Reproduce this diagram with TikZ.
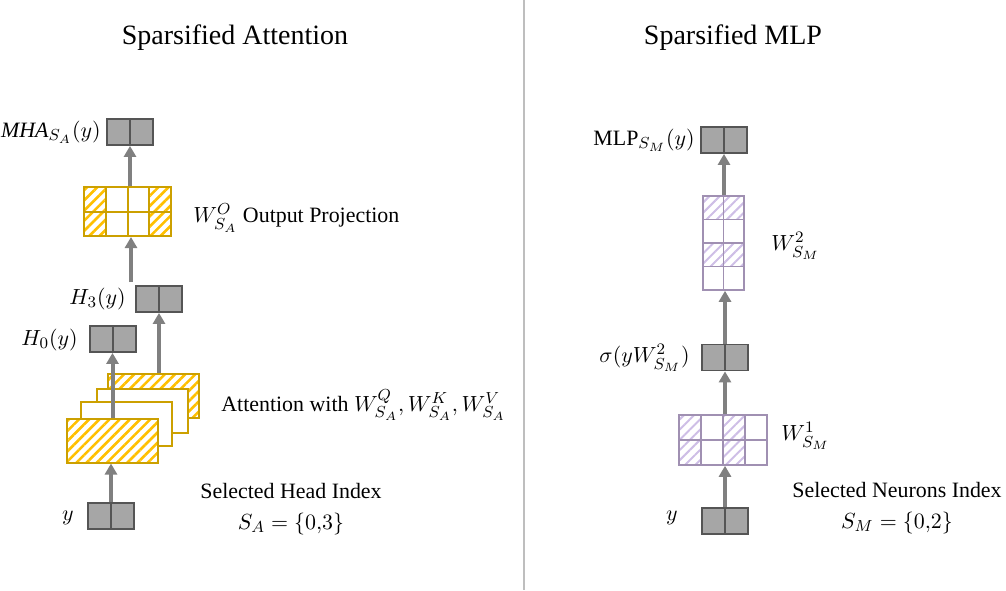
\documentclass[tikz,border=0pt,11pt]{standalone}
\usepackage{fontspec}
\setmainfont{Liberation Serif}
\usepackage{amsmath}
\usepackage{tikz}
\usetikzlibrary{arrows.meta}
\usetikzlibrary{patterns.meta}
\usetikzlibrary{positioning}

\definecolor{vecfill}{RGB}{166,166,166}
\definecolor{vecline}{RGB}{85,85,85}
\definecolor{flowgray}{RGB}{128,128,128}
\definecolor{gold}{RGB}{204,160,0}
\definecolor{hatchyellow}{RGB}{255,192,0}
\definecolor{lilac}{RGB}{160,144,178}
\definecolor{hatchlilac}{RGB}{206,190,230}
\definecolor{sepgray}{RGB}{190,190,190}

\tikzstyle{vec}=[draw=vecline,fill=vecfill,line width=0.9pt,minimum width=23pt,minimum height=13pt,inner sep=0pt,
  path picture={\draw[vecline,line width=0.9pt] (path picture bounding box.north) -- (path picture bounding box.south);}]
\tikzstyle{flow}=[draw=flowgray,line width=2pt,-{Triangle[width=6pt,length=5.5pt]}]
\tikzstyle{txt}=[inner sep=0pt]
\tikzstyle{title}=[font=\fontsize{14}{17}\selectfont]
\tikzstyle{head}=[draw=gold,line width=1pt,fill=white,minimum width=45.5pt,minimum height=22pt,inner sep=0pt]
\tikzstyle{yhatch}=[preaction={fill=white},pattern={Lines[angle=45,distance=3.6pt,line width=1.3pt]},pattern color=hatchyellow]
\tikzstyle{phatch}=[pattern={Lines[angle=45,distance=3.6pt,line width=1pt]},pattern color=hatchlilac]
\tikzstyle{goldmat}=[draw=gold,line width=1pt,inner sep=0pt]
\tikzstyle{lilacmat}=[draw=lilac,line width=0.8pt,inner sep=0pt]

\begin{document}
\begin{tikzpicture}[x=0.5pt,y=-0.5pt]
	\useasboundingbox (0,0) rectangle (1006,590);

	\node[title] (tatt) at (235,38) {Sparsified Attention};
	\node[title] (tmlp) at (733,38) {Sparsified MLP};
	\draw[sepgray,line width=1pt] (524,0) -- (524,590);

% % % Attention

	\node[head,yhatch] (hb) at (153,396) {};
	\node[head] (hc) at (142,410.5) {};
	\node[head] (hd) at (126.5,424) {};
	\node[head,yhatch] (ha) at (112.5,440.5) {};

	\node[vec] (yA) at (111,516) {};
	\node[vec] (hzero) at (113,339) {};
	\node[vec] (hthree) at (159,299) {};
	\node[vec] (mha) at (130,132) {};
	\coordinate (cat) at (131,282);

	\foreach \c in {0,3}
		\path[yhatch] (84+\c*21.75,187) rectangle ++(21.75,49);
	\node[goldmat,minimum width=43.5pt,minimum height=24.5pt] (wo) at (127.5,211.5) {};
	\foreach \c in {1,2,3}
		\draw[gold,line width=1pt] (84+\c*21.75,187) -- ++(0,49);
	\draw[gold,line width=1pt] (wo.west) -- (wo.east);

	\draw[flow] (yA.north) -- (yA.north |- ha.south);
	\draw[flow] (ha.north) -- (ha.north |- hzero.south);
	\draw[flow] (hthree.south |- hb.north) -- (hthree.south);
	\draw[flow] (cat) -- (cat |- wo.south);
	\draw[flow] (mha.south |- wo.north) -- (mha.south);

	\node[txt,anchor=east] (lmha) at (101,132) {$\mathit{MHA}_{S_A}(y)$};
	\node[txt,anchor=west] (lwo) at (193,218) {$W^{O}_{S_A}$ Output Projection};
	\node[txt,anchor=east] (lhthree) at (126,299) {$H_3(y)$};
	\node[txt,anchor=east] (lhzero) at (78,340) {$H_0(y)$};
	\node[txt,anchor=west] (latt) at (221,405) {Attention with $W^{Q}_{S_A}, W^{K}_{S_A}, W^{V}_{S_A}$};
	\node[txt] (lyA) at (68,518) {$y$};
	\node[txt,align=center] (lsel) at (291,509) {Selected Head Index\\[2pt] $S_A=\{0{,}3\}$};

% % % MLP

	\node[vec] (yM) at (725,521) {};
	\node[vec] (sig) at (725,357.5) {};
	\node[vec] (mlp) at (724,140) {};

	\foreach \c in {0,2}
		\path[phatch] (679+\c*22,415) rectangle ++(22,50);
	\node[lilacmat,minimum width=44pt,minimum height=25pt] (wone) at (723,440) {};
	\foreach \c in {1,2,3}
		\draw[lilac,line width=0.8pt] (679+\c*22,415) -- ++(0,50);
	\draw[lilac,line width=0.8pt] (wone.west) -- (wone.east);

	\foreach \r in {0,2}
		\path[phatch] (703,196+\r*23.5) rectangle ++(41,23.5);
	\node[lilacmat,minimum width=20.5pt,minimum height=47pt] (wtwo) at (723.5,243) {};
	\foreach \r in {1,2,3}
		\draw[lilac,line width=0.8pt] (703,196+\r*23.5) -- ++(41,0);
	\draw[lilac,line width=0.8pt] (wtwo.north) -- (wtwo.south);

	\draw[flow] (yM.north) -- (yM.north |- wone.south);
	\draw[flow] (sig.south |- wone.north) -- (sig.south);
	\draw[flow] (sig.north) -- (sig.north |- wtwo.south);
	\draw[flow] (mlp.south |- wtwo.north) -- (mlp.south);

	\node[txt,anchor=east] (lmlp) at (695,140) {$\mathrm{MLP}_{S_M}(y)$};
	\node[txt,anchor=west] (lwtwo) at (771,246) {$W^{2}_{S_M}$};
	\node[txt,anchor=east] (lsig) at (690,358) {$\sigma(yW^{2}_{S_M})$};
	\node[txt,anchor=west] (lwone) at (781,436) {$W^{1}_{S_M}$};
	\node[txt] (lyM) at (672,518) {$y$};
	\node[txt,align=center] (lneu) at (897,508) {Selected Neurons Index\\[2pt] $S_M=\{0{,}2\}$};

\end{tikzpicture}
\end{document}
